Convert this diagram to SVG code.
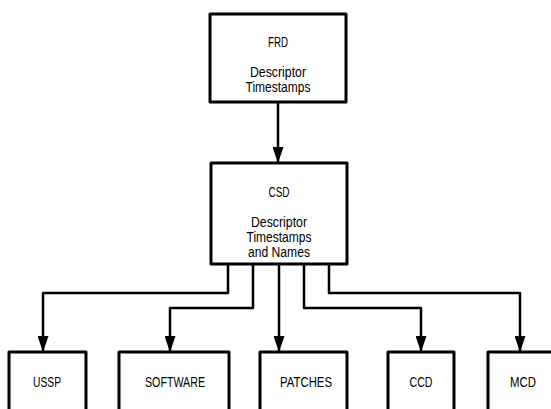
<svg xmlns="http://www.w3.org/2000/svg" width="551" height="409" viewBox="0 0 551 409">
<style>
  .box { fill: #fff; stroke: #000; stroke-width: 3; stroke-linejoin: round; }
  .lbl { font-family: "Liberation Sans", Arial, sans-serif; font-size: 14px; fill: #000; text-anchor: middle; }
  .conn { fill: none; stroke: #000; stroke-width: 2.5; stroke-linejoin: round; marker-end: url(#arr); }
</style>
<defs>
  <marker id="arr" markerUnits="userSpaceOnUse" markerWidth="16" markerHeight="11" viewBox="0 0 16 11" refX="16" refY="5.5" orient="auto">
    <path d="M0 0 L16 5.5 L0 11 Z" fill="#000"/>
  </marker>
</defs>
<rect width="551" height="409" fill="#fff"/>
<g id="connectors">
  <path class="conn" d="M278 102 V163"/>
  <path class="conn" d="M228 264 V293 H43 V352"/>
  <path class="conn" d="M253 264 V308 H170 V352"/>
  <path class="conn" d="M279 264 V352"/>
  <path class="conn" d="M304 264 V308 H421 V352"/>
  <path class="conn" d="M329 264 V293 H520 V352"/>
</g>
<g id="frd">
  <rect class="box" x="210" y="14" width="136" height="88"/>
  <text class="lbl" x="278" y="47" textLength="20" lengthAdjust="spacingAndGlyphs">FRD</text>
  <text class="lbl" x="278" y="77" textLength="56" lengthAdjust="spacingAndGlyphs">Descriptor</text>
  <text class="lbl" x="278" y="92" textLength="65" lengthAdjust="spacingAndGlyphs">Timestamps</text>
</g>
<g id="csd">
  <rect class="box" x="211" y="163" width="136" height="101"/>
  <text class="lbl" x="279" y="197" textLength="21" lengthAdjust="spacingAndGlyphs">CSD</text>
  <text class="lbl" x="279" y="227" textLength="56" lengthAdjust="spacingAndGlyphs">Descriptor</text>
  <text class="lbl" x="279" y="242" textLength="65" lengthAdjust="spacingAndGlyphs">Timestamps</text>
  <text class="lbl" x="279" y="257" textLength="62" lengthAdjust="spacingAndGlyphs">and Names</text>
</g>
<g id="ussp">
  <rect class="box" x="9" y="352" width="77" height="70"/>
  <text class="lbl" x="47" y="387" textLength="28" lengthAdjust="spacingAndGlyphs">USSP</text>
</g>
<g id="software">
  <rect class="box" x="119" y="352" width="110" height="70"/>
  <text class="lbl" x="175" y="387" textLength="60" lengthAdjust="spacingAndGlyphs">SOFTWARE</text>
</g>
<g id="patches">
  <rect class="box" x="260" y="352" width="87" height="70"/>
  <text class="lbl" x="306" y="387" textLength="52" lengthAdjust="spacingAndGlyphs">PATCHES</text>
</g>
<g id="ccd">
  <rect class="box" x="388" y="352" width="66" height="70"/>
  <text class="lbl" x="421" y="387" textLength="23" lengthAdjust="spacingAndGlyphs">CCD</text>
</g>
<g id="mcd">
  <rect class="box" x="488" y="352" width="72" height="70"/>
  <text class="lbl" x="523" y="387" textLength="26" lengthAdjust="spacingAndGlyphs">MCD</text>
</g>
</svg>
